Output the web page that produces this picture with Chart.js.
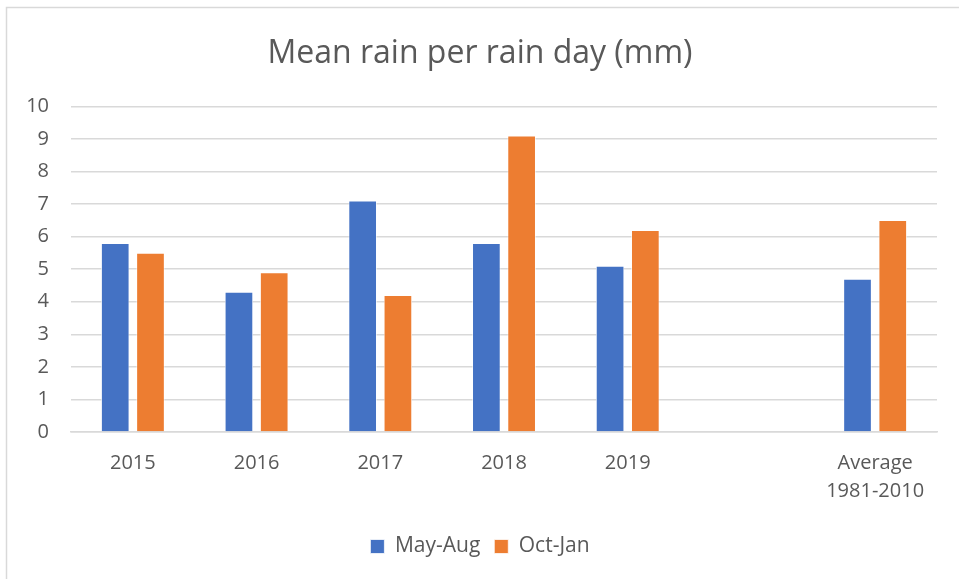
<!DOCTYPE html>
<html>
<head>
<meta charset="utf-8">
<script src="https://cdn.jsdelivr.net/npm/chart.js@4"></script>
<style>
  html, body { margin: 0; padding: 0; background: #fff; }
  #wrap { width: 959px; height: 579px; }
</style>
</head>
<body>
<div id="wrap"><canvas id="chart" width="959" height="579"></canvas></div>
<script>
// categories (the blank one is the gap before the long-term average)
const categories = ['2015', '2016', '2017', '2018', '2019', '', ['Average', '1981-2010']];
const mayAug = [5.8, 4.3, 7.1, 5.8, 5.1, null, 4.7];
const octJan = [5.5, 4.9, 4.2, 9.1, 6.2, null, 6.5];
const yTicks = [0, 1, 2, 3, 4, 5, 6, 7, 8, 9, 10];

const textColor = '#595959';
const gridColor = '#d9d9d9';
const fontFamily = '"Open Sans", "Noto Sans", sans-serif';

// light frame round the chart, like the office chart border
const framePlugin = {
    id: 'frame',
    beforeDraw(chart) {
        const ctx = chart.ctx;
        ctx.save();
        ctx.strokeStyle = gridColor;
        ctx.lineWidth = 1.5;
        ctx.beginPath();
        ctx.moveTo(6.5, chart.height);
        ctx.lineTo(6.5, 7.5);
        ctx.lineTo(chart.width, 7.5);
        ctx.stroke();
        ctx.restore();
    }
};

const ctx = document.getElementById('chart').getContext('2d');
const myChart = new Chart(ctx, {
    type: 'bar',
    data: {
        labels: categories,
        datasets: [{
            label: 'May-Aug',
            data: mayAug,
            backgroundColor: '#4472c4',
            borderColor: '#ffffff',
            borderWidth: 0.75,
            categoryPercentage: 0.57,
            barPercentage: 0.8
        }, {
            label: 'Oct-Jan',
            data: octJan,
            backgroundColor: '#ed7d31',
            borderColor: '#ffffff',
            borderWidth: 0.75,
            categoryPercentage: 0.57,
            barPercentage: 0.8
        }]
    },
    options: {
        responsive: false,
        animation: false,
        layout: { padding: { left: 23, right: 22, top: 0, bottom: 12 } },
        plugins: {
            title: {
                display: true,
                text: 'Mean rain per rain day (mm)',
                color: textColor,
                font: { family: fontFamily, size: 32, weight: 'normal' },
                padding: { top: 35, bottom: 33 }
            },
            legend: {
                position: 'bottom',
                labels: {
                    color: textColor,
                    font: { family: fontFamily, size: 21 },
                    boxWidth: 14,
                    boxHeight: 14,
                    padding: 14
                }
            },
            tooltip: { enabled: false }
        },
        scales: {
            x: {
                grid: { display: false, drawTicks: false },
                border: { color: gridColor, width: 1.5 },
                ticks: {
                    color: textColor,
                    font: { family: fontFamily, size: 20, lineHeight: 1.4 },
                    maxRotation: 0,
                    autoSkip: false,
                    padding: 17
                }
            },
            y: {
                min: 0,
                max: 10,
                afterBuildTicks(scale) {
                    scale.ticks = yTicks.map(v => ({ value: v }));
                },
                grid: { color: gridColor, lineWidth: 1.5, drawTicks: false },
                border: { display: false },
                ticks: {
                    color: textColor,
                    font: { family: fontFamily, size: 20 },
                    padding: 22
                },
                afterFit(scale) { scale.width = 48; }
            }
        }
    },
    plugins: [framePlugin]
});
</script>
</body>
</html>
